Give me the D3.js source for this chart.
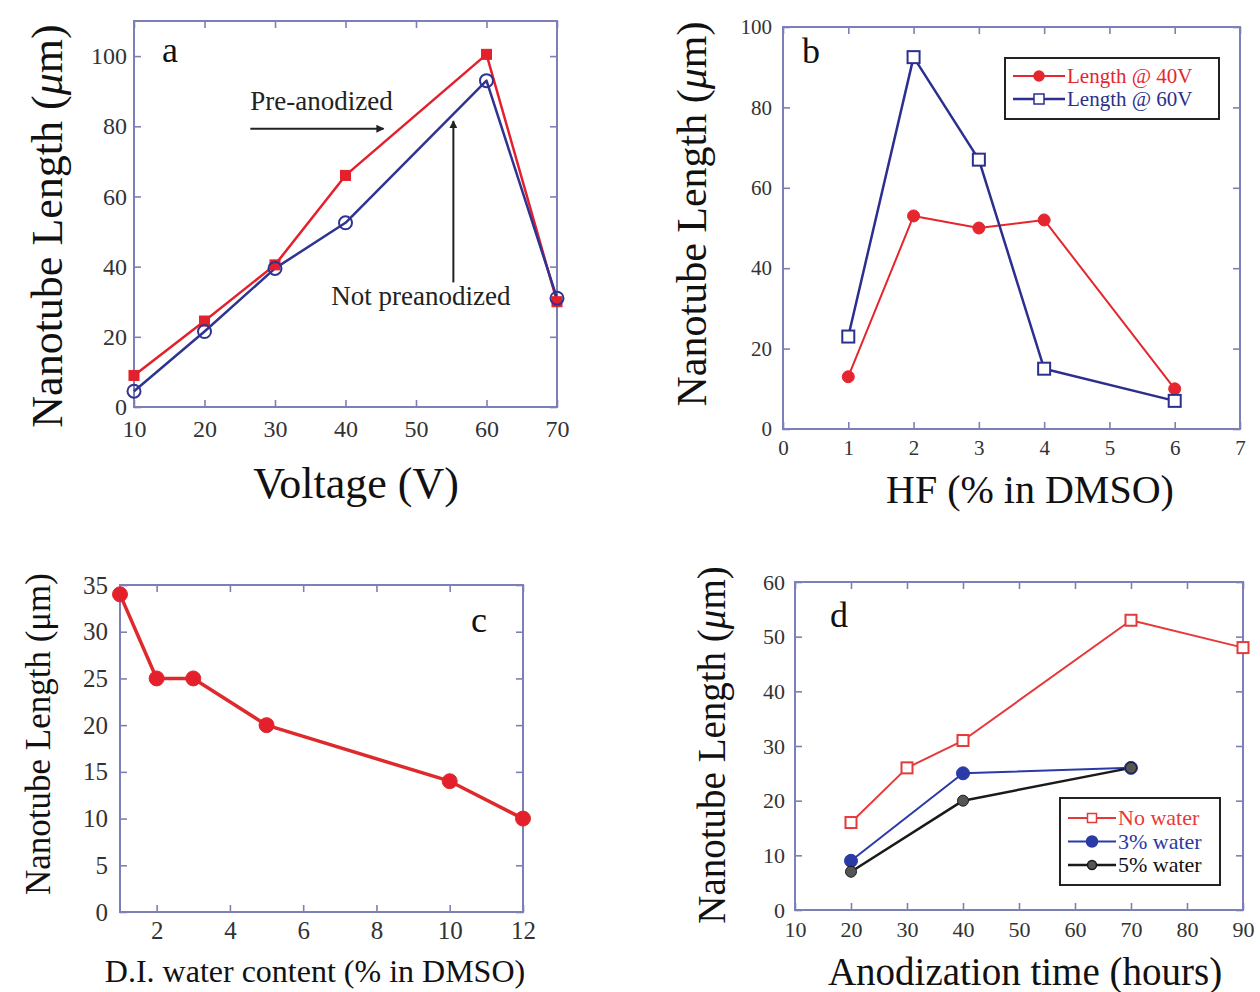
<!DOCTYPE html>
<html>
<head>
<meta charset="utf-8">
<script src="https://cdn.jsdelivr.net/npm/d3@7"></script>
<style>
body { margin: 0; background: #fff; }
svg { display: block; font-family: "Liberation Serif", "Times New Roman", serif; }
</style>
</head>
<body>
<svg id="fig" width="1260" height="992"></svg>
<script>
// ---- data, panel a ----
let voltage = [10, 20, 30, 40, 60, 70];
let lenPreAnodized = [9, 24.5, 40.5, 66, 100.5, 30];
let lenNotPreanodized = [4.5, 21.5, 39.5, 52.5, 93, 31];
let voltTicks = [10, 20, 30, 40, 50, 60, 70];
let lenTicksA = [0, 20, 40, 60, 80, 100];

// ---- data, panel b ----
let hfPercent = [1, 2, 3, 4, 6];
let len40V = [13, 53, 50, 52, 10];
let len60V = [23, 92.5, 67, 15, 7];
let hfTicks = [0, 1, 2, 3, 4, 5, 6, 7];
let lenTicksB = [0, 20, 40, 60, 80, 100];

// ---- data, panel c ----
let waterPercent = [1, 2, 3, 5, 10, 12];
let lenWater = [34, 25, 25, 20, 14, 10];
let waterTicks = [2, 4, 6, 8, 10, 12];
let lenTicksC = [0, 5, 10, 15, 20, 25, 30, 35];

// ---- data, panel d ----
let hoursNoWater = [20, 30, 40, 70, 90];
let lenNoWater = [16, 26, 31, 53, 48];
let hoursWater = [20, 40, 70];
let len3Water = [9, 25, 26];
let len5Water = [7, 20, 26];
let hourTicks = [10, 20, 30, 40, 50, 60, 70, 80, 90];
let lenTicksD = [0, 10, 20, 30, 40, 50, 60];

let svg = d3.select("#fig");
let frameColor = "#7d80b6";

svg.append("defs").append("marker")
    .attr("id", "arrow")
    .attr("viewBox", "0 0 10 10")
    .attr("refX", 9).attr("refY", 5)
    .attr("markerWidth", 8).attr("markerHeight", 8)
    .attr("markerUnits", "userSpaceOnUse")
    .attr("orient", "auto")
  .append("path")
    .attr("d", "M0,0 L10,5 L0,10 z")
    .attr("fill", "#222");

function zip(xs, ys) {
  return xs.map(function(d, i) { return [d, ys[i]]; });
}

function drawPanel(p) {
  let g = svg.append("g");
  let x = d3.scaleLinear().domain(p.xDomain).range([p.l, p.r]);
  let y = d3.scaleLinear().domain(p.yDomain).range([p.b, p.t]);

  // labelled axes (bottom, left), ticks point inward
  let bottom = g.append("g").attr("transform", "translate(0," + p.b + ")")
      .call(d3.axisBottom(x).tickValues(p.xTicks).tickSizeInner(-7).tickSizeOuter(0)
        .tickPadding(p.xPad).tickFormat(d3.format("d")));
  let left = g.append("g").attr("transform", "translate(" + p.l + ",0)")
      .call(d3.axisLeft(y).tickValues(p.yTicks).tickSizeInner(-7).tickSizeOuter(0)
        .tickPadding(p.yPad).tickFormat(d3.format("d")));
  // mirrored ticks (top, right)
  let top = g.append("g").attr("transform", "translate(0," + p.t + ")")
      .call(d3.axisTop(x).tickValues(p.xTicks).tickSizeInner(-7).tickSizeOuter(0).tickFormat(""));
  let right = g.append("g").attr("transform", "translate(" + p.r + ",0)")
      .call(d3.axisRight(y).tickValues(p.yTicks).tickSizeInner(-7).tickSizeOuter(0).tickFormat(""));

  [bottom, left, top, right].forEach(function(a) {
    a.select(".domain").remove();
    a.selectAll("line").attr("stroke", frameColor).attr("stroke-width", 1.6);
    a.selectAll("text")
      .attr("fill", "#333")
      .style("font-family", "Liberation Serif, serif")
      .style("font-size", p.tickFont + "px");
  });

  g.append("rect")
    .attr("x", p.l).attr("y", p.t)
    .attr("width", p.r - p.l).attr("height", p.b - p.t)
    .attr("fill", "none")
    .attr("stroke", frameColor)
    .attr("stroke-width", 2);

  // y title
  let yt = g.append("text")
    .attr("transform", "translate(" + p.yTitle[0] + "," + p.yTitle[1] + ") rotate(-90)")
    .attr("text-anchor", "middle")
    .attr("fill", "#111")
    .style("font-size", p.yTitleFont + "px");
  yt.append("tspan").text("Nanotube Length (");
  yt.append("tspan").text("\u03bc").style("font-style", p.italicMu ? "italic" : "normal");
  yt.append("tspan").text("m)");

  // x title
  g.append("text")
    .attr("x", p.xTitle[0]).attr("y", p.xTitle[1])
    .attr("text-anchor", "middle")
    .attr("fill", "#111")
    .style("font-size", p.xTitleFont + "px")
    .text(p.xLabel);

  // panel letter
  g.append("text")
    .attr("x", p.letterPos[0]).attr("y", p.letterPos[1])
    .attr("text-anchor", "middle")
    .attr("fill", "#111")
    .style("font-size", "36px")
    .text(p.letter);

  let line = d3.line().x(function(d) { return x(d[0]); }).y(function(d) { return y(d[1]); });

  p.series.forEach(function(s) {
    g.append("path")
      .datum(zip(s.xs, s.ys))
      .attr("d", line)
      .attr("fill", "none")
      .attr("stroke", s.color)
      .attr("stroke-width", s.width)
      .attr("stroke-linejoin", "round");
  });

  p.series.forEach(function(s) {
    let pts = zip(s.xs, s.ys);
    if (s.shape === "circle") {
      g.selectAll(null).data(pts).enter().append("circle")
        .attr("cx", function(d) { return x(d[0]); })
        .attr("cy", function(d) { return y(d[1]); })
        .attr("r", s.size)
        .attr("fill", s.fill)
        .attr("stroke", s.color)
        .attr("stroke-width", s.fill === "none" || s.fill === "#fff" ? 2 : 1);
    } else {
      g.selectAll(null).data(pts).enter().append("rect")
        .attr("x", function(d) { return x(d[0]) - s.size; })
        .attr("y", function(d) { return y(d[1]) - s.size; })
        .attr("width", s.size * 2).attr("height", s.size * 2)
        .attr("fill", s.fill)
        .attr("stroke", s.color)
        .attr("stroke-width", s.fill === "none" || s.fill === "#fff" ? 2 : 1);
    }
  });

  if (p.legend) {
    let L = p.legend;
    g.append("rect")
      .attr("x", L.x).attr("y", L.y).attr("width", L.w).attr("height", L.h)
      .attr("fill", "#fff").attr("stroke", "#222").attr("stroke-width", 2);
    p.series.forEach(function(s, i) {
      let cy = L.y + L.first + i * L.step;
      g.append("line")
        .attr("x1", L.x + 8).attr("x2", L.x + 8 + L.lineLen)
        .attr("y1", cy).attr("y2", cy)
        .attr("stroke", s.color).attr("stroke-width", s.width);
      let mx = L.x + 8 + L.lineLen / 2;
      if (s.shape === "circle") {
        g.append("circle").attr("cx", mx).attr("cy", cy).attr("r", s.size - 1)
          .attr("fill", s.fill).attr("stroke", s.color).attr("stroke-width", 1.5);
      } else {
        g.append("rect").attr("x", mx - s.size + 1).attr("y", cy - s.size + 1)
          .attr("width", (s.size - 1) * 2).attr("height", (s.size - 1) * 2)
          .attr("fill", s.fill).attr("stroke", s.color).attr("stroke-width", 1.5);
      }
      g.append("text")
        .attr("x", L.x + 10 + L.lineLen).attr("y", cy)
        .attr("dy", "0.33em")
        .attr("fill", s.textColor || s.color)
        .style("font-size", L.font + "px")
        .text(s.name);
    });
  }

  return { x: x, y: y, g: g };
}

// ---- panel a ----
let pa = drawPanel({
  l: 134, r: 557, t: 21, b: 407,
  xDomain: [10, 70], yDomain: [0, 110],
  xTicks: voltTicks, yTicks: lenTicksA,
  xPad: 13, yPad: 7, tickFont: 24,
  yTitle: [62, 226], yTitleFont: 44, italicMu: true,
  xTitle: [356, 498], xTitleFont: 44, xLabel: "Voltage (V)",
  letter: "a", letterPos: [170, 62],
  series: [
    { name: "Pre-anodized", xs: voltage, ys: lenPreAnodized, color: "#e3202b", width: 2.5,
      shape: "square", size: 5, fill: "#e3202b" },
    { name: "Not preanodized", xs: voltage, ys: lenNotPreanodized, color: "#2f3391", width: 2.5,
      shape: "circle", size: 6.5, fill: "none" }
  ]
});

// annotations for panel a, placed in data units
pa.g.append("text")
  .attr("x", pa.x(36.6)).attr("y", pa.y(84.5))
  .attr("text-anchor", "middle").attr("fill", "#222")
  .style("font-size", "27px").text("Pre-anodized");
pa.g.append("line")
  .attr("x1", pa.x(26.5)).attr("y1", pa.y(79.3))
  .attr("x2", pa.x(45.4)).attr("y2", pa.y(79.3))
  .attr("stroke", "#222").attr("stroke-width", 2)
  .attr("marker-end", "url(#arrow)");
pa.g.append("text")
  .attr("x", pa.x(50.7)).attr("y", pa.y(29.2))
  .attr("text-anchor", "middle").attr("fill", "#222")
  .style("font-size", "27px").text("Not preanodized");
pa.g.append("line")
  .attr("x1", pa.x(55.3)).attr("y1", pa.y(35.5))
  .attr("x2", pa.x(55.3)).attr("y2", pa.y(81.5))
  .attr("stroke", "#222").attr("stroke-width", 2)
  .attr("marker-end", "url(#arrow)");

// ---- panel b ----
drawPanel({
  l: 783, r: 1240, t: 27, b: 429,
  xDomain: [0, 7], yDomain: [0, 100],
  xTicks: hfTicks, yTicks: lenTicksB,
  xPad: 11, yPad: 11, tickFont: 21,
  yTitle: [706, 214], yTitleFont: 42, italicMu: true,
  xTitle: [1030, 503], xTitleFont: 40, xLabel: "HF (% in DMSO)",
  letter: "b", letterPos: [811, 63],
  legend: { x: 1005, y: 58, w: 214, h: 61, first: 18, step: 23, lineLen: 52, font: 21 },
  series: [
    { name: "Length @ 40V", xs: hfPercent, ys: len40V, color: "#e5262e", width: 2,
      shape: "circle", size: 6, fill: "#e5262e" },
    { name: "Length @ 60V", xs: hfPercent, ys: len60V, color: "#2c2f8d", width: 2.5,
      shape: "square", size: 6, fill: "#fff" }
  ]
});

// ---- panel c ----
drawPanel({
  l: 120, r: 523, t: 585, b: 912,
  xDomain: [1, 12], yDomain: [0, 35],
  xTicks: waterTicks, yTicks: lenTicksC,
  xPad: 9, yPad: 12, tickFont: 25,
  yTitle: [50, 734], yTitleFont: 35, italicMu: false,
  xTitle: [315, 982], xTitleFont: 32, xLabel: "D.I. water content (% in DMSO)",
  letter: "c", letterPos: [479, 632],
  series: [
    { name: "water", xs: waterPercent, ys: lenWater, color: "#de2a2c", width: 3.5,
      shape: "circle", size: 7.5, fill: "#e3202b" }
  ]
});

// ---- panel d ----
drawPanel({
  l: 795, r: 1243, t: 582, b: 910,
  xDomain: [10, 90], yDomain: [0, 60],
  xTicks: hourTicks, yTicks: lenTicksD,
  xPad: 11, yPad: 10, tickFont: 22,
  yTitle: [725, 745], yTitleFont: 39, italicMu: true,
  xTitle: [1025, 985], xTitleFont: 39, xLabel: "Anodization time (hours)",
  letter: "d", letterPos: [839, 627],
  legend: { x: 1060, y: 798, w: 160, h: 87, first: 20, step: 23.5, lineLen: 48, font: 22 },
  series: [
    { name: "No water", xs: hoursNoWater, ys: lenNoWater, color: "#e6393c", width: 2,
      shape: "square", size: 5.5, fill: "#fff" },
    { name: "3% water", xs: hoursWater, ys: len3Water, color: "#2a3aa6", width: 2,
      shape: "circle", size: 6.5, fill: "#2a3aa6" },
    { name: "5% water", xs: hoursWater, ys: len5Water, color: "#1a1a1a", width: 2.5,
      shape: "circle", size: 5.5, fill: "#555", textColor: "#111" }
  ]
});
</script>
</body>
</html>
